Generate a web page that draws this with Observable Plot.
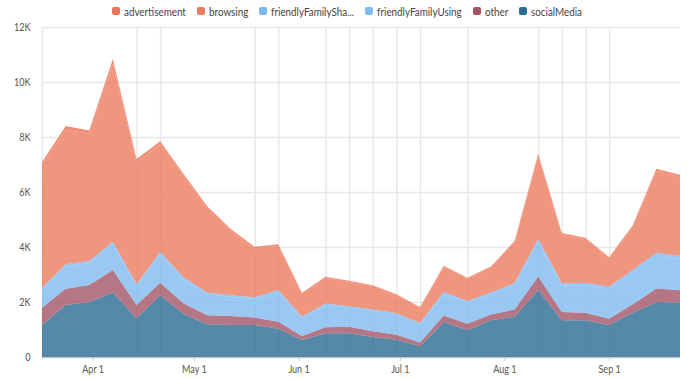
<!DOCTYPE html>
<html>
<head>
<meta charset="utf-8">
<script src="https://cdn.jsdelivr.net/npm/d3@7"></script>
<script src="https://cdn.jsdelivr.net/npm/@observablehq/plot@0.6"></script>
<style>
  html, body { margin: 0; padding: 0; background: #fff; }
  body { width: 690px; height: 379px; overflow: hidden; font-family: Lato, "Noto Sans", sans-serif; }
  #legend { height: 12px; padding-top: 5px; display: flex; justify-content: center; align-items: center; gap: 11px; font-size: 12px; color: #444; padding-left: 4px; }
  #legend .item { display: flex; align-items: center; gap: 4px; white-space: nowrap; }
  #legend .sw { width: 8px; height: 8px; border-radius: 2px; display: inline-block; }
  #legend .lab { display: inline-block; }
  #legend .lab span { display: inline-block; transform-origin: 0 50%; }
</style>
</head>
<body>
<div id="legend"></div>
<div id="chart"></div>
<script>
// Weekly dates
const weeks = ["2019-03-17","2019-03-24","2019-03-31","2019-04-07","2019-04-14","2019-04-21","2019-04-28",
  "2019-05-05","2019-05-12","2019-05-19","2019-05-26","2019-06-02","2019-06-09","2019-06-16",
  "2019-06-23","2019-06-30","2019-07-07","2019-07-14","2019-07-21","2019-07-28","2019-08-04",
  "2019-08-11","2019-08-18","2019-08-25","2019-09-01","2019-09-08","2019-09-15","2019-09-22"];

// Series (legend order)
const seriesNames = ["advertisement","browsing","friendlyFamilySharing","friendlyFamilyUsing","other","socialMedia"];
// Stack order, bottom to top
const stackOrder = ["socialMedia","other","friendlyFamilyUsing","friendlyFamilySharing","browsing","advertisement"];
const seriesColors = ["#ea7458","#ec7a5e","#7cb8ef","#7fbaf0","#a25467","#2c6c92"];

const socialMedia = [1160,1890,2000,2350,1410,2250,1560,1190,1160,1160,1030,620,860,860,730,630,390,1270,970,1340,1460,2440,1340,1340,1160,1610,2000,1980];
const other = [630,590,620,810,480,450,390,330,330,280,250,140,220,240,210,180,140,240,240,210,270,490,300,270,230,310,490,450];
const friendlyFamilyUsing = [650,810,800,940,700,1030,870,750,700,670,1070,660,810,690,730,720,660,790,770,740,880,1260,960,1000,1080,1140,1200,1140];
const friendlyFamilySharing = [60,80,70,90,60,90,80,70,60,60,90,50,60,60,60,60,50,70,60,60,80,110,80,80,90,100,100,100];
const browsing = [4460,4890,4620,6470,4440,3930,3660,3050,2330,1780,1610,840,930,880,850,660,560,910,810,900,1480,3000,1770,1600,1030,1580,2980,2880];
const advertisement = [120,140,130,180,110,100,90,80,70,60,50,30,40,40,30,30,20,40,30,40,50,90,60,50,40,50,80,80];

const yTicks = [0,2000,4000,6000,8000,10000,12000];
const xTicks = ["2019-04-01","2019-05-01","2019-06-01","2019-07-01","2019-08-01","2019-09-01"];
// weeks with vertical gridlines
const gridWeeks = ["2019-04-14","2019-04-21","2019-05-19","2019-05-26","2019-06-09","2019-06-16","2019-06-23","2019-06-30","2019-07-07","2019-07-21","2019-08-11","2019-08-18","2019-08-25","2019-09-01"];

const condense = 0.82; // the reference uses a narrow typeface

const valuesBy = {socialMedia, other, friendlyFamilyUsing, friendlyFamilySharing, browsing, advertisement};
const parse = d3.utcParse("%Y-%m-%d");
const data = [];
for (const s of stackOrder) {
  valuesBy[s].forEach((v, i) => data.push({date: parse(weeks[i]), series: s, value: v}));
}

// Legend
const legend = document.getElementById("legend");
seriesNames.forEach((n, i) => {
  const item = document.createElement("span");
  item.className = "item";
  const sw = document.createElement("span");
  sw.className = "sw";
  sw.style.background = seriesColors[i];
  const lab = document.createElement("span");
  lab.className = "lab";
  const inner = document.createElement("span");
  inner.textContent = n.length > 19 ? n.slice(0, 17) + "..." : n;
  lab.appendChild(inner);
  item.appendChild(sw);
  item.appendChild(lab);
  legend.appendChild(item);
  const w = inner.getBoundingClientRect().width;
  lab.style.width = (w * condense) + "px";
  inner.style.transform = `scaleX(${condense})`;
});

const chart = Plot.plot({
  width: 690,
  height: 362,
  marginTop: 10,
  marginLeft: 42,
  marginRight: 10,
  marginBottom: 22,
  style: {fontFamily: "Lato, 'Noto Sans', sans-serif", fontSize: "11px", color: "#555", background: "transparent", overflow: "visible"},
  x: {type: "utc", domain: [parse(weeks[0]), parse(weeks[weeks.length - 1])], label: null},
  y: {domain: [0, 12000], label: null},
  color: {domain: seriesNames, range: seriesColors},
  marks: [
    Plot.ruleY(yTicks, {stroke: "#e8e8e8", strokeWidth: 1.5}),
    Plot.ruleX(gridWeeks.map(parse), {stroke: "#e8e8e8", strokeWidth: 1.5}),
    Plot.ruleX([parse(weeks[0])], {stroke: "#e8e8e8", strokeWidth: 1.5}),
    Plot.ruleY([0], {stroke: "#c8c8c8", strokeWidth: 1.5}),
    Plot.areaY(data, {x: "date", y: "value", z: "series", fill: "series", fillOpacity: 0.8, order: stackOrder}),
    Plot.axisY({ticks: yTicks, tickSize: 0, tickPadding: 12, tickFormat: d => d === 0 ? "0" : d / 1000 + "K", fill: "#555"}),
    Plot.axisX({ticks: xTicks.map(parse), tickSize: 4, tickPadding: 4, stroke: "#ccc", tickFormat: d3.utcFormat("%b %-d"), fill: "#555"})
  ]
});
document.getElementById("chart").appendChild(chart);
// narrow the tick labels to match the reference typeface
chart.querySelectorAll("text").forEach(t => {
  const w = t.getComputedTextLength();
  if (w > 0) {
    t.setAttribute("textLength", (w * condense).toFixed(2));
    t.setAttribute("lengthAdjust", "spacingAndGlyphs");
  }
});
</script>
</body>
</html>
